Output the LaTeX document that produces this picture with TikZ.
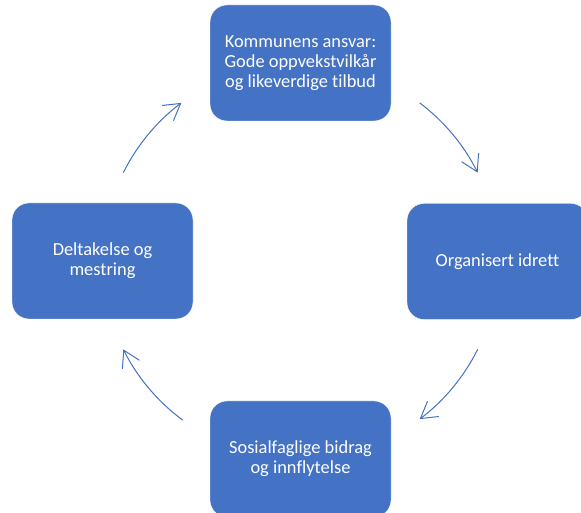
\documentclass[tikz,border=0pt]{standalone}
\usepackage{fontspec}
\setmainfont{Carlito}[Ligatures=NoCommon]
\usepackage{tikz}
\usetikzlibrary{arrows.meta, positioning}
\definecolor{officeblue}{HTML}{4472C4}
\tikzstyle{arrow} = [line width=1pt, -{Straight Barb[length=16pt, width=19pt]}, officeblue]
\tikzstyle{cyclebox} = [rectangle, rounded corners=17pt, minimum width=181pt, minimum height=116pt,
                        text centered, draw=white, fill=officeblue, text=white, align=center,
                        font=\fontsize{18.4}{20}\selectfont]

\begin{document}
\begin{tikzpicture}[x=1pt, y=1pt]
    \useasboundingbox (0,0) rectangle (581,513);
    \clip (0,0) rectangle (581,513);
    % Boxes in the cycle
    \coordinate (c) at (300.5,252);
    \node[cyclebox] (kommune) at (300.5,450) {Kommunens ansvar:\\Gode oppvekstvilkår\\og likeverdige tilbud};
    \node[cyclebox] (idrett) at (497.5,251.5) {Organisert idrett};
    \node[cyclebox] (sosial) at (300.5,54) {Sosialfaglige bidrag\\og innflytelse};
    \node[cyclebox] (deltak) at (102.5,252) {Deltakelse og\\mestring};

    % Arrows (arcs round the centre)
    \coordinate (s1) at ([shift={(53:198)}]c);
    \coordinate (s2) at ([shift={(-26.5:198)}]c);
    \coordinate (s3) at ([shift={(-126.5:198)}]c);
    \coordinate (s4) at ([shift={(153.5:198)}]c);
    \draw[arrow] (s1) arc[start angle=53, end angle=26.5, radius=198];
    \draw[arrow] (s2) arc[start angle=-26.5, end angle=-53, radius=198];
    \draw[arrow] (s3) arc[start angle=-126.5, end angle=-153.5, radius=198];
    \draw[arrow] (s4) arc[start angle=153.5, end angle=127, radius=198];
\end{tikzpicture}
\end{document}
